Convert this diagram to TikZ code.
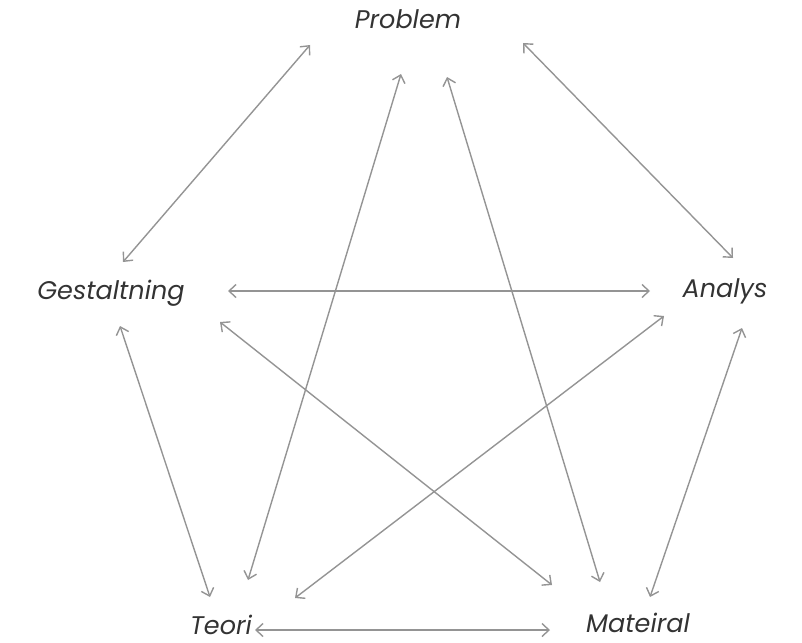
\documentclass[tikz,border=0pt]{standalone}
\usepackage{fontspec}
\setmainfont{Poppins}
\usetikzlibrary{arrows.meta}
\tikzset{
  lbl/.style={font=\fontsize{25.5}{30}\selectfont\itshape, text=black!80, inner sep=0pt, anchor=base},
  link/.style={draw=black!42, line width=1.4pt, {Straight Barb[length=7pt,width=13pt]}-{Straight Barb[length=7pt,width=13pt]}}
}
\begin{document}
\begin{tikzpicture}[x=1pt,y=-1pt]
\useasboundingbox (0,0) rectangle (802,642);
\node[lbl] (P) at (408,29) {Problem};
\node[lbl] (G) at (111,299) {Gestaltning};
\node[lbl] (A) at (725,297) {Analys};
\node[lbl] (T) at (221,634) {Teori};
\node[lbl] (M) at (638,632) {Mateiral};
% endpoints
\coordinate (pg1) at (310,45);  \coordinate (pg2) at (123,262);
\coordinate (pt1) at (401,74);  \coordinate (pt2) at (248,580);
\coordinate (pm1) at (447,77);  \coordinate (pm2) at (600,582);
\coordinate (pa1) at (523,43);  \coordinate (pa2) at (733,258);
\coordinate (ga1) at (228,291); \coordinate (ga2) at (650,291);
\coordinate (gm1) at (220,322); \coordinate (gm2) at (552,585);
\coordinate (gt1) at (120,326); \coordinate (gt2) at (210,597);
\coordinate (at1) at (664,316); \coordinate (at2) at (295,598);
\coordinate (am1) at (742,328); \coordinate (am2) at (650,597);
\coordinate (tm1) at (255,630); \coordinate (tm2) at (550,630);
\draw[link] (pg1) -- (pg2);
\draw[link] (pt1) -- (pt2);
\draw[link] (pm1) -- (pm2);
\draw[link] (pa1) -- (pa2);
\draw[link] (ga1) -- (ga2);
\draw[link] (gm1) -- (gm2);
\draw[link] (gt1) -- (gt2);
\draw[link] (at1) -- (at2);
\draw[link] (am1) -- (am2);
\draw[link] (tm1) -- (tm2);
\end{tikzpicture}
\end{document}
